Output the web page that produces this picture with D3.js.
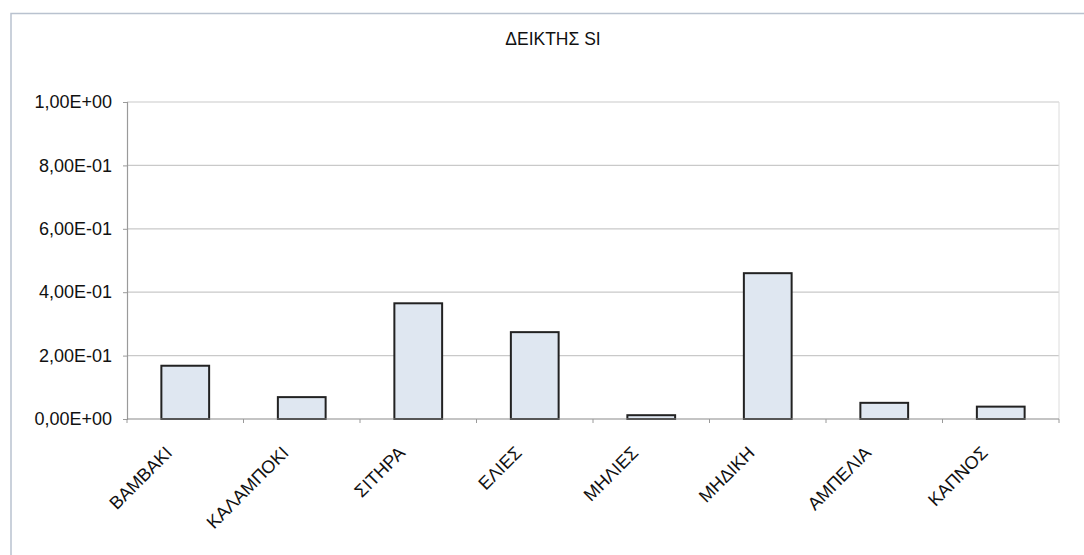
<!DOCTYPE html>
<html>
<head>
<meta charset="utf-8">
<script src="https://cdn.jsdelivr.net/npm/d3@7"></script>
<style>
  html, body { margin: 0; padding: 0; background: #ffffff; }
  svg { display: block; }
  text { font-family: "Liberation Sans", Arial, sans-serif; fill: #111; }
</style>
</head>
<body>
<svg id="chart" width="1084" height="555"></svg>
<script>
// Crop categories and their SI index values
const categories = ["ΒΑΜΒΑΚΙ", "ΚΑΛΑΜΠΟΚΙ", "ΣΙΤΗΡΑ", "ΕΛΙΕΣ", "ΜΗΛΙΕΣ", "ΜΗΔΙΚΗ", "ΑΜΠΕΛΙΑ", "ΚΑΠΝΟΣ"];
const siValues = [0.168, 0.069, 0.365, 0.274, 0.012, 0.46, 0.051, 0.039];
const yTickValues = [0, 0.2, 0.4, 0.6, 0.8, 1.0];
const yTickLabels = ["0,00E+00", "2,00E-01", "4,00E-01", "6,00E-01", "8,00E-01", "1,00E+00"];
const chartTitle = "ΔΕΙΚΤΗΣ SI";

const svg = d3.select("#chart");
const plot = { left: 127, right: 1059, top: 102, bottom: 419 };

// Outer chart frame (runs off the right and bottom edges)
svg.append("rect")
  .attr("x", 11).attr("y", 13.5)
  .attr("width", 1100).attr("height", 560)
  .attr("fill", "none")
  .attr("stroke", "#b9c2cf")
  .attr("stroke-width", 1.5);

const x = d3.scaleBand()
  .domain(categories)
  .range([plot.left, plot.right])
  .paddingInner(0.59)
  .paddingOuter(0.295);

const y = d3.scaleLinear()
  .domain([0, 1])
  .range([plot.bottom, plot.top]);

// Horizontal gridlines
svg.append("g")
  .selectAll("line")
  .data(yTickValues.filter(v => v > 0))
  .join("line")
  .attr("x1", plot.left).attr("x2", plot.right)
  .attr("y1", d => y(d)).attr("y2", d => y(d))
  .attr("stroke", "#c9c9c9")
  .attr("stroke-width", 1.2);

// Right edge of plot area
svg.append("line")
  .attr("x1", plot.right).attr("x2", plot.right)
  .attr("y1", plot.top).attr("y2", plot.bottom)
  .attr("stroke", "#dcdcdc").attr("stroke-width", 1);

// Bars
svg.append("g")
  .selectAll("rect")
  .data(categories)
  .join("rect")
  .attr("x", d => x(d))
  .attr("y", (d, i) => y(siValues[i]))
  .attr("width", x.bandwidth())
  .attr("height", (d, i) => y(0) - y(siValues[i]))
  .attr("fill", "#dfe7f1")
  .attr("stroke", "#222")
  .attr("stroke-width", 2);

// Y axis
const yAxis = d3.axisLeft(y)
  .tickValues(yTickValues)
  .tickFormat((d, i) => yTickLabels[i])
  .tickSize(4)
  .tickPadding(11);

const gy = svg.append("g")
  .attr("transform", `translate(${plot.left},0)`)
  .call(yAxis);
gy.select(".domain").attr("stroke", "#9a9a9a").attr("stroke-width", 1.2);
gy.selectAll(".tick line").attr("stroke", "#9a9a9a");
gy.selectAll(".tick text")
  .attr("font-size", "18px")
  .attr("fill", "#111")
  .style("font-family", "'Liberation Sans', Arial, sans-serif");

// X axis baseline and boundary ticks
svg.append("line")
  .attr("x1", plot.left).attr("x2", plot.right)
  .attr("y1", y(0)).attr("y2", y(0))
  .attr("stroke", "#8a8a8a").attr("stroke-width", 1.2);

const boundaries = categories.map(c => x(c) - x.step() * x.paddingInner() / 2).concat([plot.right]);
svg.append("g")
  .selectAll("line")
  .data(boundaries)
  .join("line")
  .attr("x1", d => d).attr("x2", d => d)
  .attr("y1", y(0)).attr("y2", y(0) + 4)
  .attr("stroke", "#9a9a9a");

// Rotated category labels
svg.append("g")
  .selectAll("text")
  .data(categories)
  .join("text")
  .attr("transform", d => `translate(${x(d) + x.bandwidth() / 2 - 12},${y(0) + 35}) rotate(-45)`)
  .attr("text-anchor", "end")
  .attr("font-size", "18px")
  .text(d => d);

// Title
svg.append("text")
  .attr("x", 553).attr("y", 45)
  .attr("text-anchor", "middle")
  .attr("font-size", "17.5px")
  .text(chartTitle);
</script>
</body>
</html>
